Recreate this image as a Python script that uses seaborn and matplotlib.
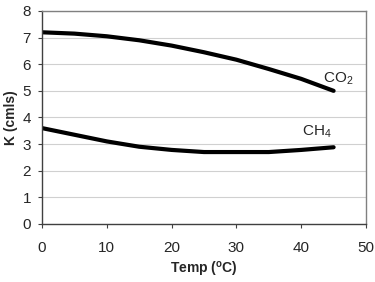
import numpy as np
import pandas as pd
import matplotlib
matplotlib.use("Agg")
import matplotlib.pyplot as plt
import seaborn as sns

# values
temp = [0, 5, 10, 15, 20, 25, 30, 35, 40, 45]
k_co2 = [7.2, 7.15, 7.05, 6.9, 6.7, 6.45, 6.17, 5.82, 5.45, 5.0]
k_ch4 = [3.6, 3.35, 3.1, 2.9, 2.78, 2.7, 2.7, 2.7, 2.78, 2.88]

df = pd.DataFrame({"temp": temp + temp,
                   "k": k_co2 + k_ch4,
                   "gas": ["CO2"] * len(temp) + ["CH4"] * len(temp)})

sns.set_style("white")
plt.rcParams['font.family'] = ['Liberation Sans', 'DejaVu Sans']
plt.rcParams['mathtext.fontset'] = 'custom'
plt.rcParams['mathtext.rm'] = 'Liberation Sans'

fig, ax = plt.subplots(figsize=(3.75, 2.82), dpi=100)
sns.lineplot(data=df, x="temp", y="k", units="gas", estimator=None,
             color="black", linewidth=3, ax=ax, legend=False)

ax.set_xlim(0, 50)
ax.set_ylim(0, 8)
ax.set_xticks(range(0, 51, 10))
ax.set_yticks(range(0, 9))
ax.yaxis.grid(True, color="#d0d0d0", linewidth=0.8)
ax.set_axisbelow(True)
for s in ax.spines.values():
    s.set_color("#808080")
    s.set_linewidth(1)
ax.spines["left"].set_color("#404040")
ax.spines["bottom"].set_color("#404040")
ax.tick_params(axis="both", labelsize=11, length=3, color="#404040", direction="out",
               bottom=True, left=True)
ax.tick_params(axis="x", pad=9)
ax.tick_params(axis="y", pad=5)

ax.set_xlabel(r"Temp ($\mathregular{^o}$C)", fontsize=10, fontweight="bold")
ax.set_ylabel("K (cmls)", fontsize=10, fontweight="bold")
ax.xaxis.set_label_coords(0.5, -0.215, transform=ax.transAxes)
ax.yaxis.set_label_coords(-0.095, 0.5, transform=ax.transAxes)
ax.xaxis.label.set_va("center")
ax.yaxis.label.set_va("center")

ax.text(43.3, 5.3, r"CO$\mathregular{_2}$", fontsize=11)
ax.text(40.1, 3.3, r"CH$\mathregular{_4}$", fontsize=11)

fig.subplots_adjust(left=0.112, right=0.976, top=0.961, bottom=0.206)
fig.savefig("out.png", dpi=100)
